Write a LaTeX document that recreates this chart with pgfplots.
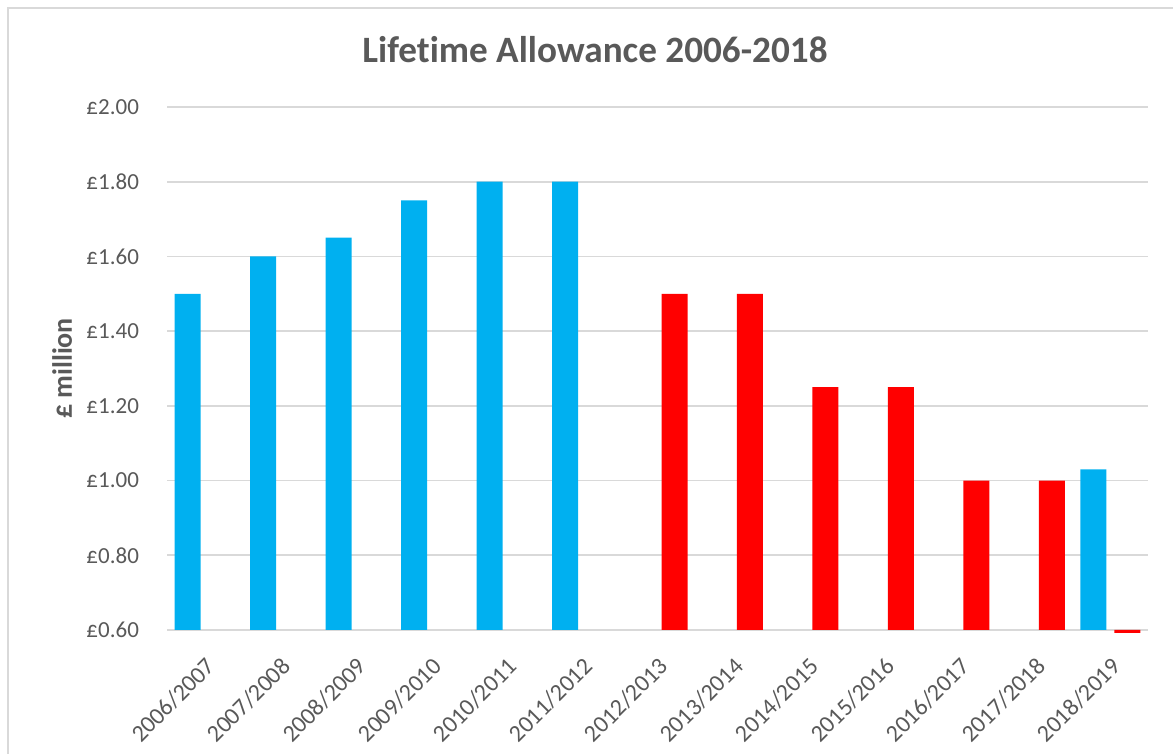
\documentclass[border=0pt]{standalone}
\usepackage{pgfplots}
\pgfplotsset{compat=1.18}
\usepackage{fontspec}
\setmainfont{Carlito}[Ligatures=NoCommon]
\definecolor{xlblue}{HTML}{00B0F0}
\definecolor{xlred}{HTML}{FF0000}
\definecolor{gridgray}{HTML}{D9D9D9}
\definecolor{txtgray}{HTML}{595959}
\begin{document}
\begin{tikzpicture}
% chart area, 1px = 0.5pt
\path[use as bounding box] (0,0) rectangle (586.5pt,377pt);
\draw[gridgray, line width=1pt] (4pt,0) -- (4pt,373pt) -- (586.5pt,373pt);
\node[font=\fontsize{18.6}{22}\selectfont\bfseries, text=txtgray] at (297.5pt,352pt) {Lifetime Allowance 2006-2018};
\begin{axis}[
  at={(83.5pt,62pt)}, anchor=south west,
  scale only axis, width=490.5pt, height=261.5pt,
  ybar=4pt, bar width=13pt,
  xmin=-0.5, xmax=12.5,
  ymin=0, ymax=1.4,
  y filter/.expression={y-0.6},
  clip=false,
  xtick={0,...,12},
  xticklabels={2006/2007,2007/2008,2008/2009,2009/2010,2010/2011,2011/2012,2012/2013,2013/2014,2014/2015,2015/2016,2016/2017,2017/2018,2018/2019},
  ytick={0,0.2,0.4,0.6,0.8,1.0,1.2,1.4},
  yticklabels={£0.60,£0.80,£1.00,£1.20,£1.40,£1.60,£1.80,£2.00},
  ymajorgrids, grid style={gridgray, line width=0.8pt},
  axis x line*=bottom, axis y line*=left,
  x axis line style={gridgray, line width=1pt, -},
  y axis line style={draw=none},
  tick style={draw=none},
  ticklabel style={font=\fontsize{11.5}{13}\selectfont, text=txtgray},
  yticklabel style={xshift=-10.5pt},
  xticklabel style={font=\fontsize{12}{14}\selectfont, rotate=45, anchor=north east, inner sep=1pt, yshift=-5pt, xshift=-5pt},
  ylabel={£ million},
  ylabel style={at={(axis description cs:-0.107,0.5)}, anchor=center,
    font=\fontsize{14}{16}\selectfont\bfseries, text=txtgray},
]
\addplot[fill=xlblue, draw=none] coordinates {
  (0,1.50) (1,1.60) (2,1.65) (3,1.75) (4,1.80) (5,1.80) (12,1.03)
};
\addplot[fill=xlred, draw=none] coordinates {
  (6,1.50) (7,1.50) (8,1.25) (9,1.25) (10,1.00) (11,1.00) (12,0.592)
};
\end{axis}
\end{tikzpicture}
\end{document}
